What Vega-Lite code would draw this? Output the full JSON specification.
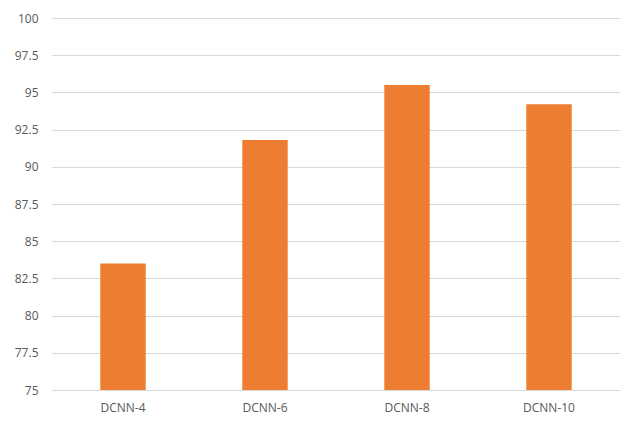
{
  "$schema": "https://vega.github.io/schema/vega-lite/v6.json",
  "width": 568,
  "height": 372,
  "autosize": {"type": "none"},
  "padding": {"left": 52, "top": 18, "right": 20, "bottom": 38},
  "background": "white",
  "config": {
    "view": {"stroke": null},
    "font": "Open Sans"
  },
  "data": {
    "values": [
      {"model": "DCNN-4", "accuracy": 83.5},
      {"model": "DCNN-6", "accuracy": 91.8},
      {"model": "DCNN-8", "accuracy": 95.5},
      {"model": "DCNN-10", "accuracy": 94.2}
    ]
  },
  "mark": {"type": "bar", "color": "#ED7D31", "clip": true},
  "encoding": {
    "x": {
      "field": "model",
      "type": "nominal",
      "sort": null,
      "title": null,
      "scale": {"paddingInner": 0.68, "paddingOuter": 0.34},
      "axis": {
        "labelAngle": 0,
        "ticks": false,
        "domainColor": "#D9D9D9",
        "labelColor": "#595959",
        "labelFontSize": 12,
        "labelPadding": 12
      }
    },
    "y": {
      "field": "accuracy",
      "type": "quantitative",
      "title": null,
      "scale": {"domain": [75, 100], "nice": false, "zero": false},
      "axis": {
        "values": [75, 77.5, 80, 82.5, 85, 87.5, 90, 92.5, 95, 97.5, 100],
        "format": ".1~f",
        "domain": false,
        "ticks": false,
        "gridColor": "#D9D9D9",
        "labelColor": "#595959",
        "labelFontSize": 12,
        "labelPadding": 14
      }
    }
  }
}
